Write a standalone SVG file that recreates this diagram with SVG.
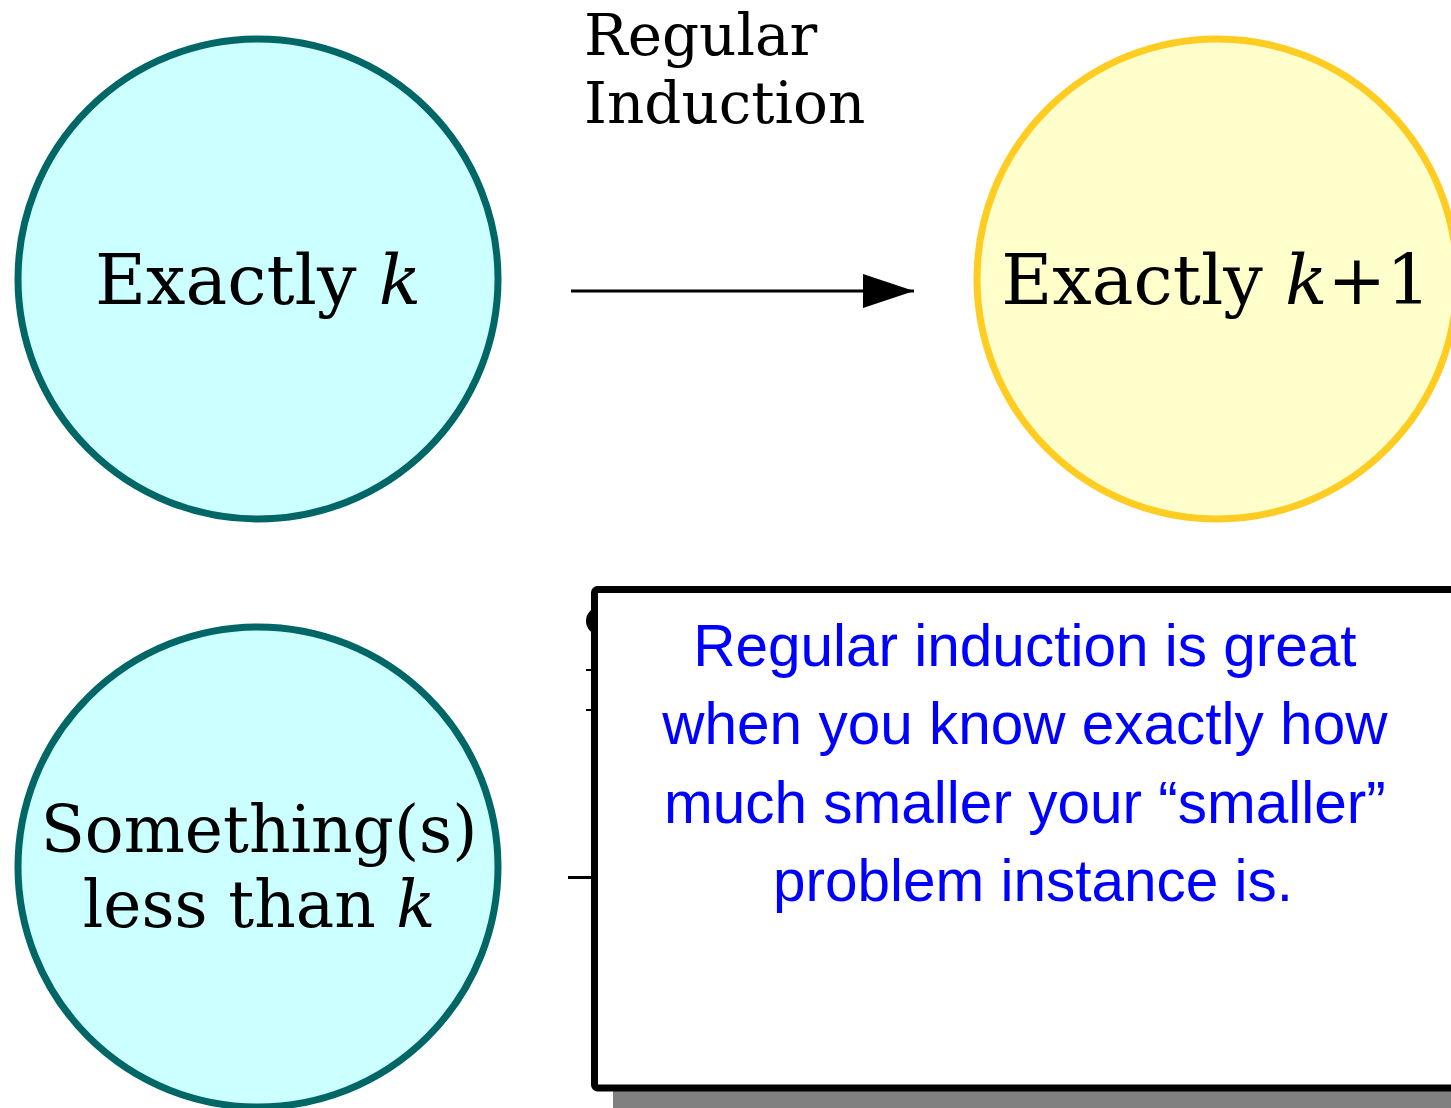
<svg xmlns="http://www.w3.org/2000/svg" width="1451" height="1108" viewBox="0 0 1451 1108">
<style>
.serif{font-family:"DejaVu Serif",serif;fill:#000}
.big{font-size:70px}
.mid{font-size:64.5px}
.lbl{font-size:58px}
.teal{fill:#ccffff;stroke:#006666;stroke-width:7}
.gold{fill:#ffffcc;stroke:#ffcc22;stroke-width:7}
.note{font-family:"Liberation Sans",Arial,sans-serif;font-size:58.5px;fill:#0000ff}
</style>
<defs>
<marker id="arr" markerWidth="51" markerHeight="34" refX="51" refY="17" orient="auto" markerUnits="userSpaceOnUse">
<path d="M0,0 L51,17 L0,34 Z" fill="#000"/>
</marker>
</defs>
<rect width="1451" height="1108" fill="#fff"/>
<g id="node-exactly-k">
<circle class="teal" cx="258" cy="279" r="240"/>
<text class="serif big" x="258" y="304" text-anchor="middle">Exactly <tspan font-style="italic">k</tspan></text>
</g>
<g id="node-exactly-k1">
<circle class="gold" cx="1217" cy="279" r="240"/>
<text class="serif big" x="1216" y="304" text-anchor="middle">Exactly <tspan font-style="italic">k</tspan>+1</text>
</g>
<g id="node-less-than-k">
<circle class="teal" cx="258" cy="867" r="240"/>
<text class="serif mid" x="259" y="852" text-anchor="middle">Something(s)</text>
<text class="serif mid" x="259" y="927" text-anchor="middle">less than <tspan font-style="italic">k</tspan></text>
</g>
<g id="connectors">
<line x1="571" y1="291" x2="914" y2="291" stroke="#000" stroke-width="3" marker-end="url(#arr)"/>
<text class="serif lbl" x="584" y="55">Regular</text>
<text class="serif lbl" x="584" y="123">Induction</text>
<line x1="568" y1="877.5" x2="595" y2="877.5" stroke="#000" stroke-width="3"/>
<line x1="586" y1="670" x2="595" y2="670" stroke="#000" stroke-width="2"/>
<line x1="586" y1="710" x2="595" y2="710" stroke="#000" stroke-width="2"/>
<ellipse cx="600" cy="621" rx="14" ry="14" fill="#000"/>
</g>
<g id="callout">
<rect x="613" y="608" width="900" height="520" fill="#808080"/>
<rect x="594.5" y="589.5" width="900" height="498.5" rx="3" fill="#fff" stroke="#000" stroke-width="7"/>
<text class="note" text-anchor="middle">
<tspan x="1033" y="665.5">Regular induction is great</tspan>
<tspan x="1033" y="744">when you know exactly how</tspan>
<tspan x="1033" y="822.5">much smaller your “smaller”</tspan>
<tspan x="1033" y="901">problem instance is.</tspan>
</text>
</g>
</svg>
